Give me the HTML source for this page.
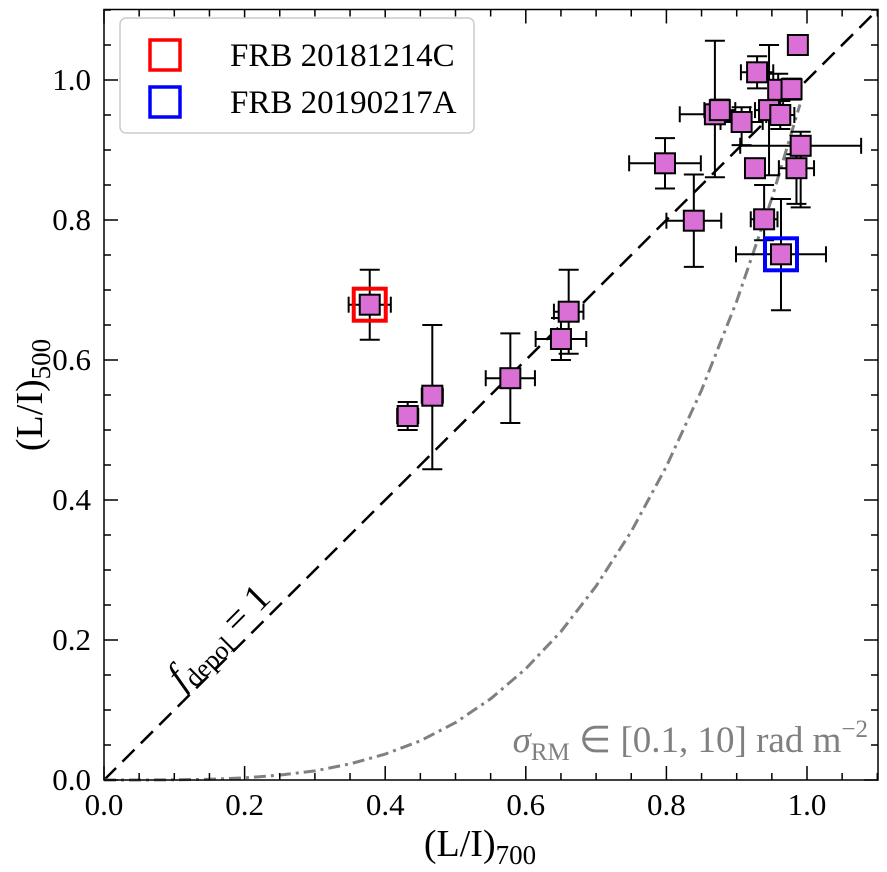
<!DOCTYPE html>
<html><head><meta charset="utf-8"><style>
body{margin:0;background:#fff}
svg{display:block;font-family:"Liberation Serif",serif}
</style></head><body>
<svg id="chart" width="887" height="872" viewBox="0 0 887 872" xmlns="http://www.w3.org/2000/svg">
<g id="marks"></g>
<rect x="104" y="9.5" width="774" height="770.5" fill="none" stroke="#000" stroke-width="1.5"/>
<g id="ticks"></g>
<text x="480" y="856" font-size="38" text-anchor="middle">(L/I)<tspan font-size="27" dy="8">700</tspan></text>
<text transform="translate(42,395) rotate(-90)" font-size="38" text-anchor="middle">(L/I)<tspan font-size="27" dy="8">500</tspan></text>
<text transform="translate(182,690) rotate(-45)" font-size="38" font-style="italic">f<tspan font-style="normal" font-size="26" dy="8">depol</tspan><tspan font-style="normal" dy="-8"> = 1</tspan></text>
<text x="868" y="752" font-size="37" fill="#808080" text-anchor="end"><tspan font-style="italic">σ</tspan><tspan font-size="25" dy="8">RM</tspan><tspan dy="-8"> ∈ [0.1, 10] rad m</tspan><tspan font-size="25" dy="-15">−2</tspan></text>
<g>
<rect x="120" y="18" width="354" height="115" rx="6" fill="#fff" stroke="#ccc" stroke-width="1.5"/>
<rect x="150" y="40" width="30" height="30" fill="none" stroke="#f00" stroke-width="3.5"/>
<text x="230" y="66" font-size="33">FRB 20181214C</text>
<rect x="150" y="87" width="30" height="30" fill="none" stroke="#00f" stroke-width="3.5"/>
<text x="230" y="113" font-size="33">FRB 20190217A</text>
</g>
</svg>
<script>
const xs =   [0.378,0.432,0.467,0.578,0.650,0.661,0.798,0.839,0.869,0.876,0.907,0.929,0.926,0.939,0.946,0.959,0.962,0.978,0.991,0.985,0.987,0.963];
const ys =   [0.679,0.520,0.549,0.574,0.630,0.669,0.881,0.799,0.951,0.957,0.940,1.011,0.874,0.801,0.957,0.986,0.950,0.987,0.906,0.874,1.050,0.751];
const xErr = [0.030,0.015,0.015,0.035,0.036,0.021,0.051,0.039,0.050,0.022,0.030,0.023,0.010,0.019,0.020,0.012,0.020,0.012,0.086,0.025,0.010,0.064];
const yErrLo=[0.050,0.020,0.105,0.064,0.030,0.060,0.036,0.066,0.090,0.015,0.033,0.023,0.010,0.030,0.093,0.015,0.020,0.015,0.088,0.051,0.010,0.080];
const yErrHi=[0.050,0.020,0.101,0.064,0.030,0.060,0.036,0.066,0.105,0.015,0.021,0.023,0.010,0.049,0.093,0.023,0.020,0.015,0.020,0.020,0.012,0.079];
const highlightRed = [0];
const highlightBlue = [21];
const curveX = [0,0.05,0.1,0.15,0.2,0.25,0.3,0.35,0.4,0.45,0.5,0.55,0.6,0.65,0.7,0.75,0.8,0.85,0.9,0.95,0.99];
const curveY = [0,0,0.0003,0.001,0.003,0.007,0.013,0.023,0.037,0.056,0.082,0.116,0.159,0.212,0.277,0.355,0.448,0.557,0.684,0.831,0.965];
const xTicks = [0,0.2,0.4,0.6,0.8,1.0];
const xTickLabels = ["0.0","0.2","0.4","0.6","0.8","1.0"];
const yTicks = [0,0.2,0.4,0.6,0.8,1.0];
const yTickLabels = ["0.0","0.2","0.4","0.6","0.8","1.0"];

const NS="http://www.w3.org/2000/svg";
const X0=104,XS=703,Y0=780,YS=700;
const sx=v=>X0+v*XS, sy=v=>Y0-v*YS;
const marks=document.getElementById('marks'), tk=document.getElementById('ticks');
function mk(tag,attrs,parent){const e=document.createElementNS(NS,tag);for(const k in attrs)e.setAttribute(k,attrs[k]);parent.appendChild(e);return e;}

let l=mk('line',{x1:sx(0),y1:sy(0),x2:sx(1.1),y2:sy(1.1),stroke:'#000','stroke-width':2.5,'stroke-dasharray':'17,9'},marks);


let p=mk('polyline',{points:curveX.map((v,i)=>sx(v)+','+sy(curveY[i])).join(' '),fill:'none',stroke:'#808080','stroke-width':3,'stroke-dasharray':'12,5,3,5','stroke-linejoin':'round'},marks);



for(let i=0;i<xs.length;i++){
  const g=mk('g',{stroke:'#000','stroke-width':2,fill:'none'},marks);
  
  
  const cx=sx(xs[i]),cy=sy(ys[i]);
  const xl=sx(xs[i]-xErr[i]),xr=sx(xs[i]+xErr[i]),yt=sy(ys[i]+yErrHi[i]),yb=sy(ys[i]-yErrLo[i]);
  mk('line',{x1:xl,y1:cy,x2:xr,y2:cy},g);
  mk('line',{x1:cx,y1:yt,x2:cx,y2:yb},g);
  mk('line',{x1:xl,y1:cy-8,x2:xl,y2:cy+8},g);
  mk('line',{x1:xr,y1:cy-8,x2:xr,y2:cy+8},g);
  mk('line',{x1:cx-10,y1:yt,x2:cx+10,y2:yt},g);
  mk('line',{x1:cx-10,y1:yb,x2:cx+10,y2:yb},g);
}
for(let i=0;i<xs.length;i++){
  const r=mk('rect',{x:sx(xs[i])-10,y:sy(ys[i])-10,width:20,height:20,fill:'#DA70D6',stroke:'#000','stroke-width':2},marks);
  
  
}
highlightRed.forEach(i=>{
  const r=mk('rect',{x:sx(xs[i])-16,y:sy(ys[i])-16,width:32,height:32,fill:'none',stroke:'#f00','stroke-width':4},marks);
  
  
});
highlightBlue.forEach(i=>{
  const r=mk('rect',{x:sx(xs[i])-16,y:sy(ys[i])-16,width:32,height:32,fill:'none',stroke:'#00f','stroke-width':4},marks);
  
  
});

for(let v=0;v<=1.1001;v+=0.05){
  const major=Math.abs(v/0.2-Math.round(v/0.2))<1e-6, L=major?14:7;
  const x=sx(v),y=sy(v);
  mk('line',{x1:x,y1:780,x2:x,y2:780-L,stroke:'#000','stroke-width':1.5},tk);
  mk('line',{x1:x,y1:9.5,x2:x,y2:9.5+L,stroke:'#000','stroke-width':1.5},tk);
  mk('line',{x1:104,y1:y,x2:104+L,y2:y,stroke:'#000','stroke-width':1.5},tk);
  mk('line',{x1:878,y1:y,x2:878-L,y2:y,stroke:'#000','stroke-width':1.5},tk);
}
xTicks.forEach((v,i)=>{
  const t=mk('text',{x:sx(v),y:815,'font-size':31,'text-anchor':'middle'},tk);
  t.textContent=xTickLabels[i];
  
  
});
yTicks.forEach((v,i)=>{
  const t=mk('text',{x:91,y:sy(v)+10,'font-size':31,'text-anchor':'end'},tk);
  t.textContent=yTickLabels[i];
  
  
});
</script>
</body></html>
